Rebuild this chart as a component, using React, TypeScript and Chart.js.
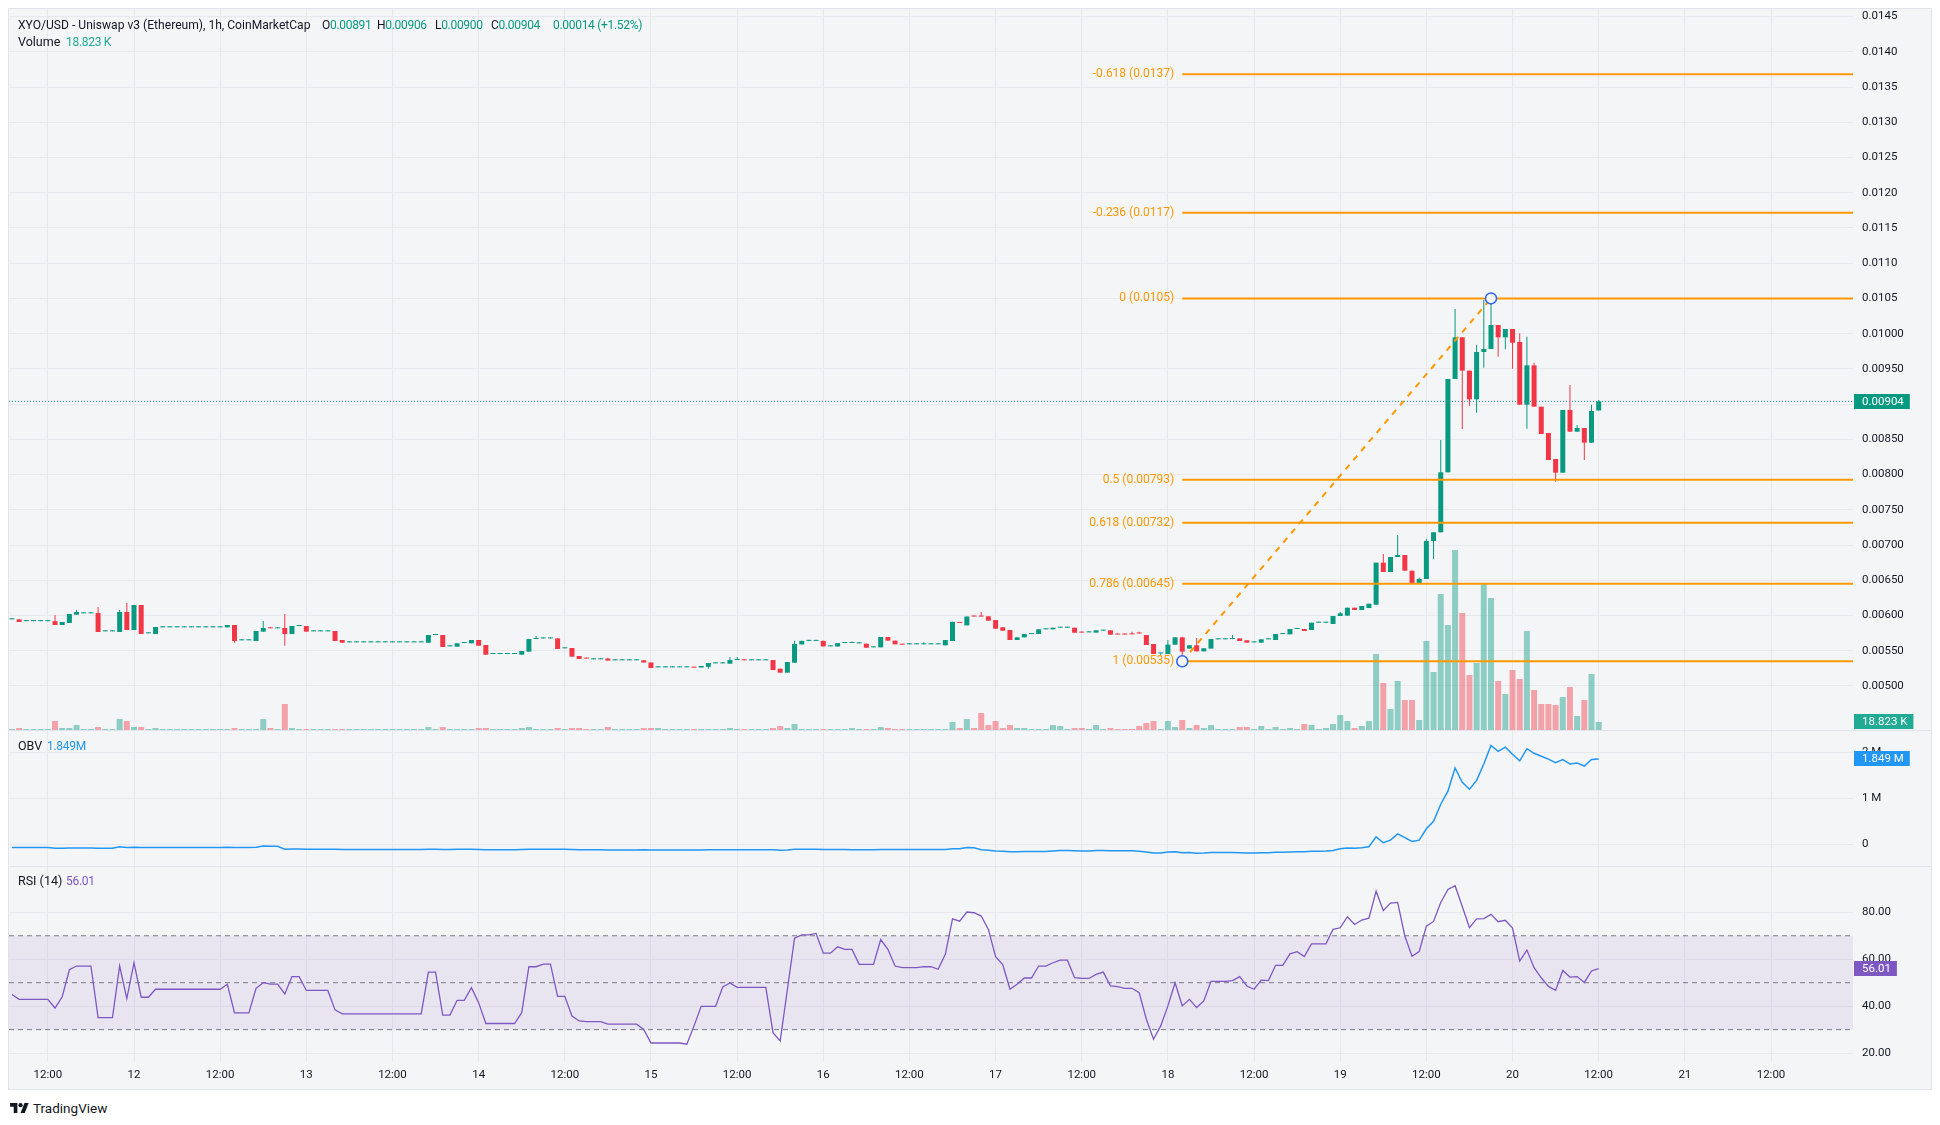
import React, { useEffect, useRef } from "react";
import { Chart, registerables } from "chart.js";

Chart.register(...registerables);

// ---------- data (hour index 0 = day 12, 00:00; one candle per hour) ----------
const FIRST_HOUR = -17;

const opens = [
  0.005946, 0.005946, 0.00592, 0.00592, 0.00592, 0.00592, 0.00592, 0.005865, 0.005894, 0.006012,
  0.006031, 0.006031, 0.006035, 0.005775, 0.005775, 0.005766, 0.00605, 0.005794, 0.006149, 0.005747,
  0.005737, 0.005832, 0.005832, 0.005832, 0.005832, 0.005832, 0.005832, 0.005832, 0.005832, 0.005832,
  0.005832, 0.005865, 0.005648, 0.005648, 0.005638, 0.005771, 0.005823, 0.005818, 0.005823, 0.005737,
  0.005851, 0.005851, 0.005775, 0.005775, 0.005775, 0.00578, 0.005652, 0.005619, 0.005619, 0.005619,
  0.005619, 0.005619, 0.005619, 0.005619, 0.005619, 0.005619, 0.005619, 0.005619, 0.005614, 0.005723,
  0.005723, 0.005562, 0.005558, 0.00561, 0.005605, 0.005652, 0.005581, 0.005454, 0.005454, 0.005454,
  0.005454, 0.005444, 0.005487, 0.005666, 0.005675, 0.005675, 0.005675, 0.005534, 0.005539, 0.005425,
  0.005392, 0.005378, 0.005378, 0.005388, 0.005364, 0.005364, 0.005364, 0.005364, 0.005364, 0.005333,
  0.005264, 0.005264, 0.005264, 0.005264, 0.005264, 0.005264, 0.005262, 0.005272, 0.005321, 0.005321,
  0.005316, 0.005368, 0.005368, 0.005364, 0.005364, 0.005364, 0.005368, 0.005245, 0.005189, 0.00533,
  0.00559, 0.00564, 0.00564, 0.00564, 0.005562, 0.00556, 0.00561, 0.00561, 0.005605, 0.0056,
  0.005548, 0.005548, 0.005695, 0.005643, 0.005591, 0.005591, 0.005591, 0.005591, 0.005591, 0.005591,
  0.005577, 0.005638, 0.005905, 0.00586, 0.00599, 0.00599, 0.005988, 0.005935, 0.005832, 0.005794,
  0.005652, 0.00569, 0.005737, 0.005737, 0.005804, 0.005804, 0.005827, 0.005827, 0.005827, 0.005761,
  0.005761, 0.005757, 0.005785, 0.00579, 0.005733, 0.005733, 0.005737, 0.00575, 0.005723, 0.005595,
  0.005463, 0.005454, 0.005586, 0.00569, 0.00553, 0.005577, 0.005491, 0.00553, 0.005662, 0.005662,
  0.005666, 0.005675, 0.005648, 0.005619, 0.005615, 0.005662, 0.005652, 0.005737, 0.005733, 0.005808,
  0.005808, 0.005794, 0.005898, 0.005898, 0.00588, 0.005993, 0.005998, 0.006111, 0.006078, 0.006106,
  0.006153, 0.00675, 0.006617, 0.00683, 0.006859, 0.006636, 0.006457, 0.006518, 0.007057, 0.007181,
  0.008032, 0.009357, 0.009948, 0.009475, 0.009068, 0.00974, 0.009782, 0.010123, 0.009948, 0.010066,
  0.009882, 0.008992, 0.00955, 0.008964, 0.00859, 0.008221, 0.008027, 0.008917, 0.008609, 0.008661,
  0.008453, 0.00891,
];

const highs = [
  0.005946, 0.005946, 0.00592, 0.00592, 0.00592, 0.00592, 0.006007, 0.005908, 0.006021, 0.006078,
  0.006031, 0.006031, 0.006121, 0.005775, 0.005775, 0.006078, 0.006177, 0.006149, 0.006149, 0.005747,
  0.005837, 0.005832, 0.005832, 0.005832, 0.005832, 0.005832, 0.005832, 0.005832, 0.005832, 0.005832,
  0.005865, 0.005865, 0.005648, 0.005648, 0.00578, 0.005922, 0.005823, 0.005818, 0.006021, 0.005851,
  0.005851, 0.005851, 0.005775, 0.005775, 0.005775, 0.00578, 0.005652, 0.005619, 0.005619, 0.005619,
  0.005619, 0.005619, 0.005619, 0.005619, 0.005619, 0.005619, 0.005619, 0.005619, 0.005723, 0.005723,
  0.005723, 0.005562, 0.005605, 0.00561, 0.005652, 0.005652, 0.005581, 0.005454, 0.005454, 0.005454,
  0.005454, 0.005496, 0.005666, 0.00571, 0.005675, 0.005675, 0.005675, 0.005534, 0.005539, 0.005425,
  0.005392, 0.005378, 0.005378, 0.0054, 0.005364, 0.005364, 0.005364, 0.005364, 0.005364, 0.005333,
  0.005264, 0.005264, 0.005264, 0.005264, 0.005264, 0.005264, 0.005284, 0.005325, 0.005321, 0.005321,
  0.00541, 0.00541, 0.005368, 0.005364, 0.005364, 0.005364, 0.005368, 0.005245, 0.00534, 0.00564,
  0.00564, 0.00564, 0.00564, 0.00564, 0.005562, 0.005608, 0.00561, 0.00563, 0.005605, 0.0056,
  0.005548, 0.005695, 0.005695, 0.005643, 0.005591, 0.005591, 0.005591, 0.00562, 0.005591, 0.005591,
  0.005652, 0.00591, 0.005905, 0.005986, 0.00599, 0.00605, 0.005988, 0.005935, 0.005832, 0.005794,
  0.00569, 0.005737, 0.005737, 0.005804, 0.005804, 0.005827, 0.005827, 0.005827, 0.005827, 0.005761,
  0.005761, 0.00579, 0.005785, 0.00579, 0.005733, 0.005733, 0.00577, 0.00577, 0.005723, 0.005595,
  0.005463, 0.005652, 0.00569, 0.0057, 0.005577, 0.00568, 0.005535, 0.005666, 0.005662, 0.005662,
  0.005722, 0.005675, 0.005648, 0.005619, 0.005662, 0.005662, 0.005737, 0.005737, 0.005808, 0.005808,
  0.005808, 0.005898, 0.005898, 0.005898, 0.005993, 0.00605, 0.006111, 0.006111, 0.006135, 0.006167,
  0.00675, 0.006873, 0.00683, 0.007142, 0.006859, 0.006636, 0.006535, 0.00709, 0.007181, 0.008491,
  0.009357, 0.01035, 0.009948, 0.009475, 0.009843, 0.010478, 0.010492, 0.010123, 0.010066, 0.010066,
  0.010005, 0.009957, 0.009588, 0.008964, 0.00859, 0.008221, 0.008917, 0.009271, 0.008704, 0.008661,
  0.008992, 0.00906,
];

const lows = [
  0.005946, 0.005908, 0.00592, 0.00592, 0.00592, 0.00592, 0.005865, 0.005865, 0.005894, 0.006012,
  0.006031, 0.006031, 0.005766, 0.005775, 0.005775, 0.005766, 0.005794, 0.005794, 0.005738, 0.005747,
  0.005737, 0.005832, 0.005832, 0.005832, 0.005832, 0.005832, 0.005832, 0.005832, 0.005832, 0.005832,
  0.005832, 0.005614, 0.005648, 0.005648, 0.005638, 0.005771, 0.005818, 0.005818, 0.00557, 0.005737,
  0.005851, 0.005771, 0.005775, 0.005775, 0.005775, 0.005638, 0.005614, 0.005619, 0.005619, 0.005619,
  0.005619, 0.005619, 0.005619, 0.005619, 0.005619, 0.005619, 0.005619, 0.005619, 0.005614, 0.005723,
  0.005553, 0.005562, 0.005558, 0.00561, 0.005605, 0.005572, 0.005444, 0.005454, 0.005454, 0.005454,
  0.005454, 0.005444, 0.005487, 0.005666, 0.005675, 0.005675, 0.005525, 0.005534, 0.005416, 0.005383,
  0.005388, 0.005378, 0.005378, 0.00536, 0.005364, 0.005364, 0.005364, 0.005364, 0.005333, 0.005255,
  0.005264, 0.005264, 0.005264, 0.005264, 0.005264, 0.00526, 0.005262, 0.005245, 0.005321, 0.005321,
  0.005316, 0.005368, 0.005364, 0.005364, 0.005364, 0.005364, 0.005226, 0.005189, 0.005189, 0.00533,
  0.00559, 0.00564, 0.00564, 0.005562, 0.005562, 0.00556, 0.00561, 0.00561, 0.005605, 0.005543,
  0.005548, 0.005548, 0.005643, 0.005591, 0.005586, 0.005591, 0.005591, 0.005591, 0.005591, 0.005591,
  0.005577, 0.005638, 0.005894, 0.00586, 0.005985, 0.005985, 0.005927, 0.005813, 0.005785, 0.005652,
  0.005652, 0.00569, 0.005737, 0.005737, 0.005804, 0.005804, 0.005827, 0.005827, 0.005756, 0.005757,
  0.005761, 0.005757, 0.005785, 0.005728, 0.00573, 0.00573, 0.005733, 0.005745, 0.005581, 0.005454,
  0.00544, 0.005454, 0.005586, 0.00535, 0.00553, 0.005491, 0.005491, 0.00553, 0.005662, 0.005662,
  0.005666, 0.005638, 0.005615, 0.005619, 0.005615, 0.005662, 0.005652, 0.005737, 0.005733, 0.005808,
  0.00578, 0.005794, 0.005898, 0.005898, 0.00588, 0.005993, 0.005998, 0.006078, 0.006078, 0.006106,
  0.006153, 0.006617, 0.006617, 0.00683, 0.006636, 0.006457, 0.006457, 0.006518, 0.006798, 0.007181,
  0.008032, 0.009357, 0.008647, 0.008978, 0.008878, 0.009517, 0.009782, 0.009674, 0.009778, 0.009503,
  0.008992, 0.008652, 0.008964, 0.008576, 0.008207, 0.0079, 0.008027, 0.008609, 0.008609, 0.008207,
  0.008453, 0.00891,
];

const closes = [
  0.005946, 0.005908, 0.00592, 0.00592, 0.00592, 0.00592, 0.005865, 0.005908, 0.006021, 0.00605,
  0.006031, 0.006031, 0.005766, 0.005775, 0.005775, 0.00605, 0.005794, 0.006149, 0.005738, 0.005747,
  0.005837, 0.005832, 0.005832, 0.005832, 0.005832, 0.005832, 0.005832, 0.005832, 0.005832, 0.005832,
  0.005865, 0.005638, 0.005648, 0.005648, 0.00578, 0.005823, 0.005818, 0.005818, 0.005737, 0.005851,
  0.005851, 0.005771, 0.005775, 0.005775, 0.005775, 0.005638, 0.005614, 0.005619, 0.005619, 0.005619,
  0.005619, 0.005619, 0.005619, 0.005619, 0.005619, 0.005619, 0.005619, 0.005619, 0.005723, 0.005723,
  0.005553, 0.005562, 0.005605, 0.00561, 0.005652, 0.005572, 0.005444, 0.005454, 0.005454, 0.005454,
  0.005454, 0.005496, 0.005666, 0.005666, 0.005675, 0.005675, 0.005525, 0.005534, 0.005416, 0.005383,
  0.005388, 0.005378, 0.005378, 0.00536, 0.005364, 0.005364, 0.005364, 0.005364, 0.005333, 0.005255,
  0.005264, 0.005264, 0.005264, 0.005264, 0.005264, 0.00526, 0.005284, 0.005325, 0.005321, 0.005321,
  0.005368, 0.005368, 0.005364, 0.005364, 0.005364, 0.005364, 0.005226, 0.005189, 0.00534, 0.005596,
  0.00564, 0.00564, 0.00564, 0.005562, 0.005562, 0.005608, 0.00561, 0.00561, 0.005605, 0.005543,
  0.005548, 0.005695, 0.005643, 0.005591, 0.005586, 0.005591, 0.005591, 0.005591, 0.005591, 0.005591,
  0.005652, 0.00591, 0.005894, 0.005986, 0.005985, 0.005985, 0.005927, 0.005813, 0.005785, 0.005652,
  0.00569, 0.005737, 0.005737, 0.005804, 0.005804, 0.005827, 0.005827, 0.005827, 0.005756, 0.005757,
  0.005761, 0.00579, 0.005785, 0.005728, 0.00573, 0.00573, 0.005733, 0.005745, 0.005581, 0.005454,
  0.005463, 0.005586, 0.00569, 0.005487, 0.005577, 0.005491, 0.005535, 0.005666, 0.005662, 0.005662,
  0.005666, 0.005638, 0.005615, 0.005619, 0.005662, 0.005662, 0.005737, 0.005737, 0.005808, 0.005808,
  0.00578, 0.005898, 0.005898, 0.005898, 0.005993, 0.006031, 0.006111, 0.006078, 0.006135, 0.006167,
  0.00675, 0.006617, 0.00683, 0.006859, 0.006636, 0.006457, 0.006518, 0.007057, 0.007181, 0.008032,
  0.009357, 0.009948, 0.009475, 0.009068, 0.00974, 0.009782, 0.010123, 0.009948, 0.010066, 0.009872,
  0.008992, 0.00955, 0.008964, 0.008576, 0.008207, 0.008027, 0.008917, 0.008609, 0.008661, 0.008453,
  0.008902, 0.00904,
];

// volume, thousands
const volumesK = [
  2.0, 4.7, 2.0, 2.0, 2.0, 2.0, 21.2, 4.7, 4.7, 11.8,
  2.0, 2.0, 7.1, 2.0, 2.0, 25.9, 21.2, 7.1, 7.1, 2.0,
  4.7, 2.0, 2.0, 2.0, 2.0, 2.0, 2.0, 2.0, 2.0, 2.0,
  2.0, 4.7, 2.0, 2.0, 2.0, 25.9, 4.7, 2.0, 61.1, 4.7,
  2.0, 2.0, 2.0, 2.0, 2.0, 2.0, 2.0, 2.0, 2.0, 2.0,
  2.0, 2.0, 2.0, 2.0, 2.0, 2.0, 2.0, 2.0, 7.1, 2.0,
  7.1, 2.0, 2.0, 2.0, 2.0, 4.7, 4.7, 2.0, 2.0, 2.0,
  2.0, 4.7, 7.1, 2.0, 2.0, 2.0, 4.7, 2.0, 4.7, 4.7,
  2.0, 2.0, 2.0, 7.1, 2.0, 2.0, 2.0, 2.0, 4.7, 4.7,
  4.7, 2.0, 2.0, 2.0, 2.0, 2.0, 2.0, 2.0, 2.0, 2.0,
  4.7, 2.0, 2.0, 2.0, 2.0, 2.0, 4.7, 9.4, 4.7, 14.1,
  2.0, 2.0, 2.0, 2.0, 2.0, 2.0, 2.0, 4.7, 2.0, 2.0,
  2.0, 7.1, 4.7, 2.0, 2.0, 2.0, 2.0, 2.0, 2.0, 2.0,
  2.0, 18.8, 4.7, 25.9, 4.7, 40.0, 11.8, 21.2, 4.7, 11.8,
  4.7, 4.7, 2.0, 2.0, 2.0, 11.8, 9.4, 2.0, 4.7, 4.7,
  2.0, 11.8, 2.0, 4.7, 2.0, 2.0, 2.0, 9.4, 16.5, 21.2,
  2.0, 21.2, 7.1, 23.5, 4.7, 11.8, 4.7, 11.8, 2.0, 2.0,
  2.0, 7.1, 7.1, 2.0, 9.4, 2.0, 7.1, 2.0, 4.7, 2.0,
  14.1, 11.8, 2.0, 4.7, 14.1, 35.3, 21.2, 4.7, 9.4, 21.2,
  178.6, 110.5, 49.4, 115.2, 70.5, 70.5, 23.5, 209.2, 136.3, 319.6,
  246.8, 423.0, 275.0, 129.3, 157.5, 343.1, 310.2, 115.2, 84.6, 141.0,
  119.9, 232.7, 94.0, 61.1, 61.1, 58.8, 77.6, 101.1, 32.9, 70.5,
  131.6, 18.823,
];

// OBV, millions
const obvM = [
  -0.065, -0.065, -0.065, -0.065, -0.065, -0.065, -0.085, -0.082, -0.08, -0.077,
  -0.077, -0.077, -0.083, -0.083, -0.083, -0.05, -0.07, -0.063, -0.068, -0.068,
  -0.065, -0.065, -0.065, -0.065, -0.065, -0.065, -0.065, -0.065, -0.065, -0.065,
  -0.063, -0.066, -0.066, -0.066, -0.064, -0.035, -0.04, -0.04, -0.105, -0.1,
  -0.1, -0.103, -0.103, -0.103, -0.103, -0.107, -0.11, -0.11, -0.11, -0.11,
  -0.11, -0.11, -0.11, -0.11, -0.11, -0.11, -0.11, -0.11, -0.103, -0.103,
  -0.11, -0.11, -0.108, -0.108, -0.106, -0.11, -0.114, -0.114, -0.114, -0.114,
  -0.114, -0.11, -0.104, -0.104, -0.104, -0.104, -0.108, -0.108, -0.112, -0.116,
  -0.116, -0.116, -0.116, -0.122, -0.122, -0.122, -0.122, -0.122, -0.118, -0.122,
  -0.122, -0.122, -0.122, -0.122, -0.122, -0.122, -0.12, -0.118, -0.118, -0.118,
  -0.114, -0.114, -0.114, -0.114, -0.114, -0.114, -0.118, -0.126, -0.122, -0.108,
  -0.108, -0.108, -0.108, -0.112, -0.112, -0.112, -0.112, -0.116, -0.116, -0.116,
  -0.116, -0.11, -0.113, -0.113, -0.113, -0.113, -0.113, -0.113, -0.113, -0.113,
  -0.113, -0.095, -0.092, -0.07, -0.072, -0.115, -0.125, -0.145, -0.15, -0.16,
  -0.157, -0.154, -0.154, -0.154, -0.154, -0.143, -0.135, -0.135, -0.14, -0.144,
  -0.144, -0.133, -0.133, -0.138, -0.138, -0.138, -0.138, -0.147, -0.163, -0.185,
  -0.185, -0.165, -0.158, -0.182, -0.178, -0.19, -0.186, -0.175, -0.175, -0.175,
  -0.175, -0.182, -0.188, -0.188, -0.179, -0.179, -0.172, -0.172, -0.163, -0.16,
  -0.158, -0.15, -0.15, -0.145, -0.13, -0.095, -0.08, -0.084, -0.072, -0.052,
  0.163, 0.035, 0.092, 0.226, 0.148, 0.064, 0.092, 0.339, 0.5, 0.87,
  1.152, 1.654, 1.343, 1.194, 1.385, 1.739, 2.141, 2.014, 2.106, 1.95,
  1.809, 2.071, 1.972, 1.908, 1.845, 1.767, 1.837, 1.739, 1.76, 1.696,
  1.837, 1.849,
];

const rsi14 = [
  45.0, 42.9, 42.9, 42.9, 42.9, 42.9, 39.2, 44.0, 55.5, 57.1,
  57.1, 57.1, 35.1, 35.1, 35.1, 57.1, 43.2, 58.5, 43.8, 43.8,
  47.2, 47.2, 47.2, 47.2, 47.2, 47.2, 47.2, 47.2, 47.2, 47.2,
  49.3, 37.1, 37.1, 37.1, 47.6, 50.0, 49.4, 49.4, 45.2, 52.6,
  52.6, 46.7, 46.7, 46.7, 46.7, 38.4, 36.7, 36.7, 36.7, 36.7,
  36.7, 36.7, 36.7, 36.7, 36.7, 36.7, 36.7, 36.7, 54.5, 54.5,
  36.2, 36.2, 42.5, 42.5, 47.9, 41.5, 32.6, 32.6, 32.6, 32.6,
  32.6, 37.2, 56.8, 56.8, 57.9, 57.9, 44.2, 44.2, 35.8, 33.7,
  33.4, 33.4, 33.4, 32.3, 32.3, 32.3, 32.3, 32.3, 30.1, 24.3,
  24.3, 24.3, 24.3, 24.3, 23.8, 31.6, 39.9, 39.9, 39.9, 48.2,
  49.9, 48.0, 48.0, 48.0, 48.0, 48.0, 28.7, 25.2, 47.0, 69.0,
  70.4, 70.4, 71.0, 62.6, 62.6, 65.3, 64.2, 64.2, 57.8, 57.8,
  57.8, 68.4, 64.2, 57.1, 56.4, 56.4, 56.4, 56.8, 56.8, 55.7,
  62.1, 77.2, 76.2, 80.1, 79.8, 78.4, 72.7, 61.1, 57.7, 47.2,
  49.3, 52.0, 52.0, 57.1, 57.1, 58.5, 59.6, 59.6, 52.1, 51.8,
  51.8, 53.5, 54.5, 48.6, 48.3, 47.6, 47.6, 45.7, 34.4, 25.9,
  31.6, 40.1, 50.0, 40.1, 42.9, 39.4, 42.2, 50.6, 50.6, 50.6,
  50.9, 52.6, 48.6, 47.2, 51.1, 50.9, 57.4, 57.4, 62.3, 63.2,
  61.1, 66.5, 66.5, 66.5, 72.7, 73.4, 78.1, 74.8, 76.7, 77.5,
  89.0, 80.7, 83.9, 84.2, 69.9, 61.3, 63.3, 74.1, 76.1, 84.2,
  89.7, 91.3, 82.5, 73.4, 77.2, 77.3, 79.1, 76.0, 76.6, 73.3,
  59.2, 63.9, 56.4, 52.1, 48.4, 46.7, 55.2, 52.4, 52.6, 50.1,
  55.0, 56.01,
];

const priceTicks = [0.005, 0.0055, 0.006, 0.0065, 0.007, 0.0075, 0.008, 0.0085, 0.009, 0.0095, 0.01, 0.0105, 0.011, 0.0115, 0.012, 0.0125, 0.013, 0.0135, 0.014, 0.0145];
const priceTickLabels = ["0.00500", "0.00550", "0.00600", "0.00650", "0.00700", "0.00750", "0.00800", "0.00850", "0.00900", "0.00950", "0.01000", "0.0105", "0.0110", "0.0115", "0.0120", "0.0125", "0.0130", "0.0135", "0.0140", "0.0145"];
const obvTicks = [0, 1, 2];
const obvTickLabels = ["0", "1 M", "2 M"];
const rsiTicks = [20, 40, 60, 80];
const rsiTickLabels = ["20.00", "40.00", "60.00", "80.00"];
const timeTickHours = [-12, 0, 12, 24, 36, 48, 60, 72, 84, 96, 108, 120, 132, 144, 156, 168, 180, 192, 204, 216, 228];
const timeTickLabels = ["12:00", "12", "12:00", "13", "12:00", "14", "12:00", "15", "12:00", "16", "12:00", "17", "12:00", "18", "12:00", "19", "12:00", "20", "12:00", "21", "12:00"];

const fibPrices = [0.013683, 0.011715, 0.0105, 0.007925, 0.007317, 0.006452, 0.00535];
const fibLabels = ["-0.618 (0.0137)", "-0.236 (0.0117)", "0 (0.0105)", "0.5 (0.00793)", "0.618 (0.00732)", "0.786 (0.00645)", "1 (0.00535)"];
const trendHours = [146, 189];
const trendPrices = [0.00535, 0.0105];
const rsiBands = [70, 50, 30];

const legendTitle = "XYO/USD - Uniswap v3 (Ethereum), 1h, CoinMarketCap";
const legendOhlcKeys = ["O", "H", "L", "C"];
const legendOhlcValues = ["0.00891", "0.00906", "0.00900", "0.00904"];
const legendChange = "0.00014 (+1.52%)";
const volumeText = "18.823 K";
const obvText = "1.849M";
const obvAxisText = "1.849 M";
const rsiText = "56.01";
const lastPriceText = "0.00904";

// ---------- layout / style ----------
const FONT = "Roboto, 'Noto Sans', Arial, sans-serif";
const TEXT = "#131722";
const GRID = "#E7E9EE";
const BG = "#F4F5F7";
const SEP = "#E0E3EB";
const UP = "#089981";
const DOWN = "#F23645";
const UP_VOL = "rgba(8,153,129,0.43)";
const DOWN_VOL = "rgba(242,54,69,0.43)";
const FIB = "#FF9800";
const OBV_COLOR = "#2196F3";
const RSI_COLOR = "#7E57C2";

const CANVAS_W = 1922;
const AXIS_W = 78;
const MAIN_H = 721;
const OBV_H = 135;
const RSI_H = 222;
const TIME_AXIS_H = 27;
const X_MIN = -17.41;
const X_MAX = 239.42;
const PRICE_MIN = 0.004375;
const PRICE_MAX = 0.0146077;
const VOL_MAX = 1694;
const OBV_MIN = -0.468;
const OBV_MAX = 2.455;
const RSI_MIN = 16.2;
const RSI_MAX = 99.3;
const AXIS_FONT = { family: FONT, size: 11.5 };

const hourAt = (i: number) => FIRST_HOUR + i;

function timeScale(showLabels: boolean, axisHeight: number): any {
  return {
    type: "linear",
    min: X_MIN,
    max: X_MAX,
    offset: false,
    grid: { color: GRID, drawTicks: false, offset: false, lineWidth: 1 },
    border: { display: false },
    ticks: {
      display: showLabels,
      autoSkip: false,
      maxRotation: 0,
      padding: 6,
      color: TEXT,
      font: AXIS_FONT,
      callback: (_v: any, i: number) => timeTickLabels[i],
    },
    afterBuildTicks: (s: any) => {
      s.ticks = timeTickHours.map((v) => ({ value: v }));
    },
    afterFit: (s: any) => {
      s.height = axisHeight;
      s.paddingLeft = 0;
      s.paddingRight = 0;
    },
  };
}

function valueScale(min: number, max: number, ticks: number[], labels: string[]): any {
  return {
    type: "linear",
    position: "right",
    min,
    max,
    grid: { color: GRID, drawTicks: false, lineWidth: 1 },
    border: { display: false },
    ticks: {
      padding: 9,
      color: TEXT,
      font: AXIS_FONT,
      autoSkip: false,
      callback: (_v: any, i: number) => labels[i],
    },
    afterBuildTicks: (s: any) => {
      s.ticks = ticks.map((v) => ({ value: v }));
    },
    afterFit: (s: any) => {
      s.width = AXIS_W;
      s.paddingTop = 0;
      s.paddingBottom = 0;
    },
  };
}

function axisBoxPlugin(id: string, scaleId: string, value: number, text: string, color: string): any {
  return {
    id,
    afterDraw(chart: any) {
      const s = chart.scales[scaleId];
      const a = chart.chartArea;
      const ctx = chart.ctx;
      const y = s.getPixelForValue(value);
      ctx.save();
      ctx.font = `11.5px ${FONT}`;
      const w = ctx.measureText(text).width + 14;
      ctx.fillStyle = color;
      ctx.fillRect(a.right + 1, Math.round(y - 7.5), w, 15);
      ctx.fillStyle = "#FFFFFF";
      ctx.textAlign = "left";
      ctx.textBaseline = "middle";
      ctx.fillText(text, a.right + 9, Math.round(y - 7.5) + 8);
      ctx.restore();
    },
  };
}

const fibLabelPlugin: any = {
  id: "fibLabels",
  afterDatasetsDraw(chart: any) {
    const { ctx, scales } = chart;
    const px = scales.x.getPixelForValue(trendHours[0]) - 8;
    ctx.save();
    ctx.font = `12px ${FONT}`;
    ctx.fillStyle = FIB;
    ctx.textAlign = "right";
    ctx.textBaseline = "middle";
    fibPrices.forEach((p, i) => ctx.fillText(fibLabels[i], px, scales.y.getPixelForValue(p)));
    ctx.restore();
  },
};

const baseOptions = {
  animation: false,
  responsive: false,
  events: [],
  layout: { padding: 0, autoPadding: false },
  plugins: { legend: { display: false }, tooltip: { enabled: false } },
};

function makeMain(canvas: HTMLCanvasElement) {
  const candleColors = closes.map((c, i) => (c >= opens[i] ? UP : DOWN));
  const volColors = closes.map((c, i) => (c >= opens[i] ? UP_VOL : DOWN_VOL));
  const lastClose = closes[closes.length - 1];
  const lastVol = volumesK[volumesK.length - 1];
  const trendPts = trendHours.map((h, i) => ({ x: h, y: trendPrices[i] }));
  return new Chart(canvas, {
    type: "bar",
    data: {
      datasets: [
        {
          type: "line",
          data: trendPts,
          showLine: false,
          pointRadius: 5.5,
          pointBorderWidth: 1.5,
          pointBorderColor: "#2962FF",
          pointBackgroundColor: BG,
          order: 0,
        } as any,
        {
          type: "line",
          data: trendPts,
          borderColor: FIB,
          borderWidth: 2,
          borderDash: [6, 6],
          pointRadius: 0,
          order: 1,
        } as any,
        ...fibPrices.map(
          (p) =>
            ({
              type: "line",
              data: [
                { x: trendHours[0], y: p },
                { x: X_MAX, y: p },
              ],
              borderColor: FIB,
              borderWidth: 2,
              pointRadius: 0,
              order: 2,
            } as any)
        ),
        {
          type: "bar",
          data: opens.map((o, i) => ({ x: hourAt(i), y: [o, closes[i]] })),
          backgroundColor: candleColors,
          barThickness: 5,
          minBarLength: 1,
          grouped: false,
          inflateAmount: 0,
          order: 3,
        } as any,
        {
          type: "bar",
          data: lows.map((l, i) => ({ x: hourAt(i), y: [l, highs[i]] })),
          backgroundColor: candleColors,
          barThickness: 1,
          minBarLength: 1,
          grouped: false,
          inflateAmount: 0,
          order: 4,
        } as any,
        {
          type: "line",
          data: [
            { x: X_MIN, y: lastClose },
            { x: X_MAX, y: lastClose },
          ],
          borderColor: UP,
          borderWidth: 1,
          borderDash: [1, 2],
          pointRadius: 0,
          order: 5,
        } as any,
        {
          type: "bar",
          yAxisID: "yVol",
          data: volumesK.map((v, i) => ({ x: hourAt(i), y: v })),
          backgroundColor: volColors,
          barThickness: 6,
          minBarLength: 1,
          grouped: false,
          inflateAmount: 0,
          order: 6,
        } as any,
      ],
    },
    options: {
      ...(baseOptions as any),
      scales: {
        x: timeScale(false, 0),
        y: valueScale(PRICE_MIN, PRICE_MAX, priceTicks, priceTickLabels),
        yVol: { type: "linear", display: false, min: 0, max: VOL_MAX },
      },
    },
    plugins: [
      fibLabelPlugin,
      axisBoxPlugin("lastPriceBox", "y", lastClose, lastPriceText, UP),
      axisBoxPlugin("lastVolBox", "yVol", lastVol, volumeText, "#22AB94"),
    ],
  } as any);
}

function makeObv(canvas: HTMLCanvasElement) {
  return new Chart(canvas, {
    type: "line",
    data: {
      datasets: [
        {
          data: obvM.map((v, i) => ({ x: hourAt(i), y: v })),
          borderColor: OBV_COLOR,
          borderWidth: 1.5,
          pointRadius: 0,
          tension: 0,
        },
      ],
    },
    options: {
      ...(baseOptions as any),
      scales: {
        x: timeScale(false, 0),
        y: valueScale(OBV_MIN, OBV_MAX, obvTicks, obvTickLabels),
      },
    },
    plugins: [axisBoxPlugin("obvBox", "y", obvM[obvM.length - 1], obvAxisText, OBV_COLOR)],
  } as any);
}

function makeRsi(canvas: HTMLCanvasElement) {
  const bandLine = (v: number, extra: any) => ({
    data: [
      { x: X_MIN, y: v },
      { x: X_MAX, y: v },
    ],
    borderColor: "#787B86",
    borderWidth: 1,
    borderDash: [5, 4],
    pointRadius: 0,
    fill: false,
    order: 2,
    ...extra,
  });
  return new Chart(canvas, {
    type: "line",
    data: {
      datasets: [
        bandLine(rsiBands[0], {}),
        bandLine(rsiBands[1], {}),
        bandLine(rsiBands[2], { fill: { value: rsiBands[0] }, backgroundColor: "rgba(126,87,194,0.1)" }),
        {
          data: rsi14.map((v, i) => ({ x: hourAt(i), y: v })),
          borderColor: RSI_COLOR,
          borderWidth: 1.3,
          pointRadius: 0,
          tension: 0,
          fill: false,
          order: 1,
        },
      ],
    },
    options: {
      ...(baseOptions as any),
      scales: {
        x: timeScale(true, TIME_AXIS_H),
        y: valueScale(RSI_MIN, RSI_MAX, rsiTicks, rsiTickLabels),
      },
    },
    plugins: [axisBoxPlugin("rsiBox", "y", rsi14[rsi14.length - 1], rsiText, RSI_COLOR)],
  } as any);
}

// page coordinates -> coordinates inside the outer container (which sits at 8,8)
function Txt(props: { x: number; cy: number; size?: number; color?: string; children: any; spacing?: number }) {
  const size = props.size ?? 12.5;
  return (
    <div
      style={{
        position: "absolute",
        left: props.x - 8,
        top: props.cy - 8 - 8,
        height: 16,
        lineHeight: "16px",
        fontSize: size,
        fontFamily: FONT,
        letterSpacing: props.spacing ?? 0,
        color: props.color ?? TEXT,
        whiteSpace: "nowrap",
      }}
    >
      {props.children}
    </div>
  );
}

const ohlcX = [322, 377, 435, 491];

export default function App() {
  const mainRef = useRef<HTMLCanvasElement>(null);
  const obvRef = useRef<HTMLCanvasElement>(null);
  const rsiRef = useRef<HTMLCanvasElement>(null);

  useEffect(() => {
    const charts = [makeMain(mainRef.current!), makeObv(obvRef.current!), makeRsi(rsiRef.current!)];
    return () => charts.forEach((c) => c.destroy());
  }, []);

  return (
    <div style={{ position: "relative", width: 1924, height: 1112, fontFamily: FONT }}>
      <div
        style={{
          position: "absolute",
          left: 0,
          top: 0,
          width: 1924,
          height: 1082,
          boxSizing: "border-box",
          border: `1px solid ${SEP}`,
          background: BG,
        }}
      >
        <canvas ref={mainRef} width={CANVAS_W} height={MAIN_H} style={{ position: "absolute", left: 0, top: 0, display: "block" }} />
        <div style={{ position: "absolute", left: 0, top: MAIN_H, width: CANVAS_W, height: 1, background: SEP }} />
        <canvas ref={obvRef} width={CANVAS_W} height={OBV_H} style={{ position: "absolute", left: 0, top: MAIN_H + 1, display: "block" }} />
        <div style={{ position: "absolute", left: 0, top: MAIN_H + 1 + OBV_H, width: CANVAS_W, height: 1, background: SEP }} />
        <canvas ref={rsiRef} width={CANVAS_W} height={RSI_H} style={{ position: "absolute", left: 0, top: MAIN_H + 2 + OBV_H, display: "block" }} />
      </div>

      <Txt x={18} cy={24.5} size={12.1}>{legendTitle}</Txt>
      {legendOhlcKeys.map((k, i) => (
        <Txt key={k} x={ohlcX[i]} cy={24.5} size={12} spacing={-0.3}>
          {k}
          <span style={{ color: UP }}>{legendOhlcValues[i]}</span>
        </Txt>
      ))}
      <Txt x={553} cy={24.5} color={UP} size={12} spacing={-0.3}>{legendChange}</Txt>
      <Txt x={18} cy={41.5} size={12.5}>Volume</Txt>
      <Txt x={66} cy={41.5} color="#22AB94" size={12} spacing={-0.3}>{volumeText}</Txt>

      <Txt x={18} cy={746}>OBV</Txt>
      <Txt x={47} cy={746} color={OBV_COLOR} size={12} spacing={-0.3}>{obvText}</Txt>

      <Txt x={18} cy={881}>RSI (14)</Txt>
      <Txt x={66} cy={881} color={RSI_COLOR} size={12} spacing={-0.3}>{rsiText}</Txt>

      <svg
        width={19}
        height={11}
        viewBox="0 0 36 21"
        style={{ position: "absolute", left: 10 - 8, top: 1102 - 8 }}
      >
        <path d="M14 21H7V9H0V2h14v19Z M28 21h-8l7.5-19h8L28 21Z" fill={TEXT} />
        <circle cx="20" cy="6" r="4" fill={TEXT} />
      </svg>
      <Txt x={33} cy={1107.5} size={13.5}>TradingView</Txt>
    </div>
  );
}
